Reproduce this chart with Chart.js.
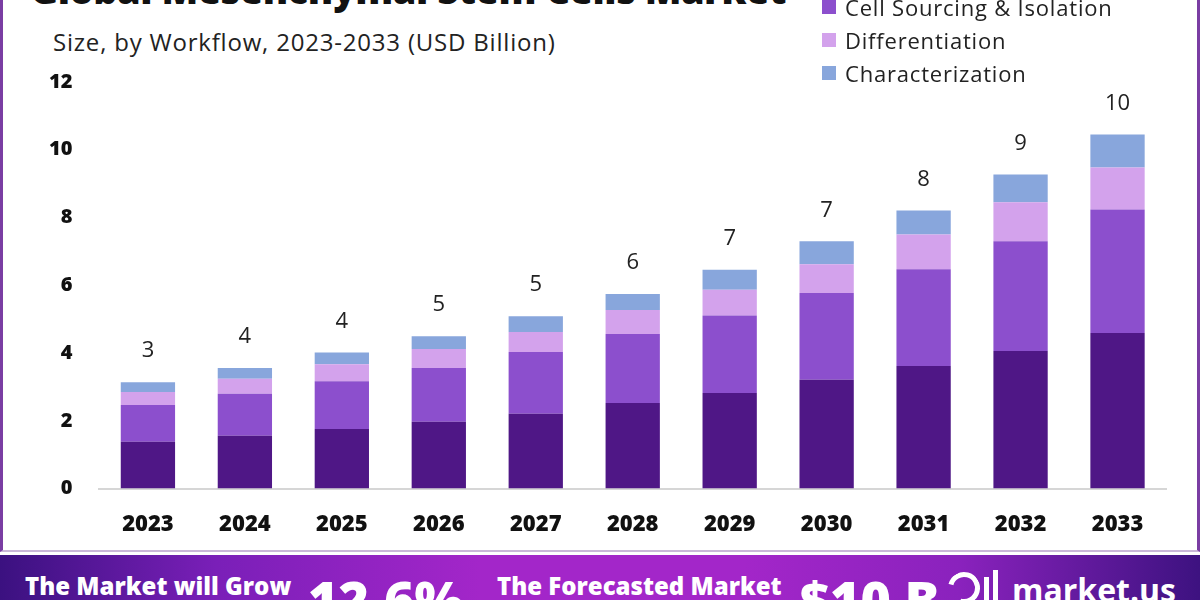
<!DOCTYPE html>
<html>
<head>
<meta charset="utf-8">
<script src="https://cdn.jsdelivr.net/npm/chart.js@4.4.1/dist/chart.umd.min.js"></script>
<style>
  html, body { margin: 0; padding: 0; background: #fff; }
  #page { position: relative; width: 1200px; height: 600px; overflow: hidden; background: #fff; font-family: 'Open Sans', sans-serif; }
  #frame { position: absolute; left: 0; top: -10px; width: 1194px; height: 560px; border: 3px solid #7a3da3; border-top: none; border-bottom: 2px solid #c9b7d8; }
  #title { position: absolute; left: 30px; top: -37px; font: 800 38px 'Open Sans', sans-serif; color: #111; white-space: nowrap; letter-spacing: -0.5px; }
  #subtitle { position: absolute; left: 53px; top: 25px; font: 400 24px 'Open Sans', sans-serif; letter-spacing: 0.8px; color: #222; white-space: nowrap; }
  #legend { position: absolute; left: 822px; top: -43px; }
  .lg-item { display: flex; align-items: center; height: 33px; font: 400 22px 'Open Sans', sans-serif; letter-spacing: 0.8px; color: #222; }
  .lg-box { width: 14px; height: 14px; margin-right: 9px; }
  #chart-wrap { position: absolute; left: 0; top: 0; width: 1200px; height: 579px; }
  #banner { position: absolute; left: 0; top: 555px; width: 1200px; height: 45px;
    background: linear-gradient(90deg, #3b1180 0%, #7a1fb8 18%, #a326c9 40%, #a326c9 62%, #8a22bd 80%, #3d1280 100%); color: #fff; }
  .bn { position: absolute; white-space: nowrap; font-family: 'Open Sans', sans-serif; font-weight: 800; }
  .ring { position: absolute; left: 948px; top: 17px; width: 22px; height: 22px; border: 5px solid #fff; border-left-color: transparent; border-radius: 50%; transform: rotate(-30deg); }
  .bar1 { position: absolute; left: 984px; top: 22px; width: 5px; height: 23px; background: #fff; }
  .bar2 { position: absolute; left: 993px; top: 15px; width: 5px; height: 30px; background: #fff; }
</style>
</head>
<body>
<div id="page">
  <div id="frame"></div>
  <div id="title">Global Mesenchymal Stem Cells Market</div>
  <div id="subtitle">Size, by Workflow, 2023-2033 (USD Billion)</div>
  <div id="chart-wrap"><canvas id="chart"></canvas></div>
  <div id="legend"></div>
  <div id="banner">
    <div class="bn" style="left:25px; top:14px; font-size:24px;">The Market will Grow</div>
    <div class="bn" style="left:308px; top:8px; font-size:52px;">12.6%</div>
    <div class="bn" style="left:497px; top:14px; font-size:24px;">The Forecasted Market</div>
    <div class="bn" style="left:800px; top:8px; font-size:52px;">$10 B</div>
    <div class="ring"></div><div class="bar1"></div><div class="bar2"></div>
    <div class="bn" style="left:1012px; top:13px; font-size:32px; font-weight:700;">market.us</div>
  </div>
</div>
<script>
// datos (USD mil millones)
const years = ['2023', '2024', '2025', '2026', '2027', '2028', '2029', '2030', '2031', '2032', '2033'];
const seriesNames = ['Culture & Media', 'Cell Sourcing & Isolation', 'Differentiation', 'Characterization'];
const cultureMedia    = [1.38, 1.56, 1.76, 1.97, 2.21, 2.53, 2.82, 3.21, 3.62, 4.06, 4.59];
const cellSourcing    = [1.09, 1.24, 1.41, 1.59, 1.82, 2.03, 2.29, 2.56, 2.85, 3.24, 3.65];
const differentiation = [0.38, 0.44, 0.50, 0.56, 0.59, 0.71, 0.76, 0.85, 1.03, 1.15, 1.24];
const characterization = [0.29, 0.32, 0.35, 0.38, 0.47, 0.47, 0.59, 0.68, 0.71, 0.82, 0.97];
const totalLabels = ['3', '4', '4', '5', '5', '6', '7', '7', '8', '9', '10'];
const yTicks = [0, 2, 4, 6, 8, 10, 12];

const colors = ['#4f1786', '#8c4fcd', '#d3a2ec', '#88a6dc'];
const seriesData = [cultureMedia, cellSourcing, differentiation, characterization];

// etiqueta del total encima de cada barra
const totalsPlugin = {
    id: 'totals',
    afterDatasetsDraw(chart) {
        const ctx = chart.ctx;
        const last = chart.getDatasetMeta(chart.data.datasets.length - 1);
        ctx.save();
        ctx.font = '400 22px "Open Sans", sans-serif';
        ctx.fillStyle = '#222';
        ctx.textAlign = 'center';
        ctx.textBaseline = 'middle';
        last.data.forEach((bar, i) => {
            ctx.fillText(totalLabels[i], bar.x, bar.y - 31);
        });
        ctx.restore();
    }
};

const chart = new Chart(document.getElementById('chart').getContext('2d'), {
    type: 'bar',
    data: {
        labels: years,
        datasets: seriesData.map((d, i) => ({
            label: seriesNames[i],
            data: d,
            backgroundColor: colors[i],
            borderWidth: 0,
            categoryPercentage: 1,
            barPercentage: 0.56
        }))
    },
    options: {
        responsive: true, maintainAspectRatio: false, animation: false,
        layout: { padding: { top: 82, left: 22, right: 34, bottom: 18 } },
        plugins: { legend: { display: false }, tooltip: { enabled: false } },
        scales: {
            x: {
                stacked: true,
                grid: { display: false, drawTicks: false },
                border: { display: true, color: '#d6d6d6', width: 2 },
                ticks: { color: '#111', padding: 23, font: { family: 'Open Sans', weight: '800', size: 22 } }
            },
            y: {
                stacked: true, min: 0, max: 12,
                afterBuildTicks: (axis) => { axis.ticks = yTicks.map(v => ({ value: v })); },
                grid: { display: false, drawTicks: false },
                border: { display: false },
                ticks: { color: '#111', padding: 27, font: { family: 'Open Sans', weight: '800', size: 20 } }
            }
        }
    },
    plugins: [totalsPlugin]
});

// leyenda HTML (el primer elemento queda recortado arriba, como en el original)
const legendEl = document.getElementById('legend');
chart.data.datasets.forEach(ds => {
    const row = document.createElement('div');
    row.className = 'lg-item';
    row.innerHTML = `<span class="lg-box" style="background:${ds.backgroundColor}"></span>${ds.label}`;
    legendEl.appendChild(row);
});
</script>
</body>
</html>
